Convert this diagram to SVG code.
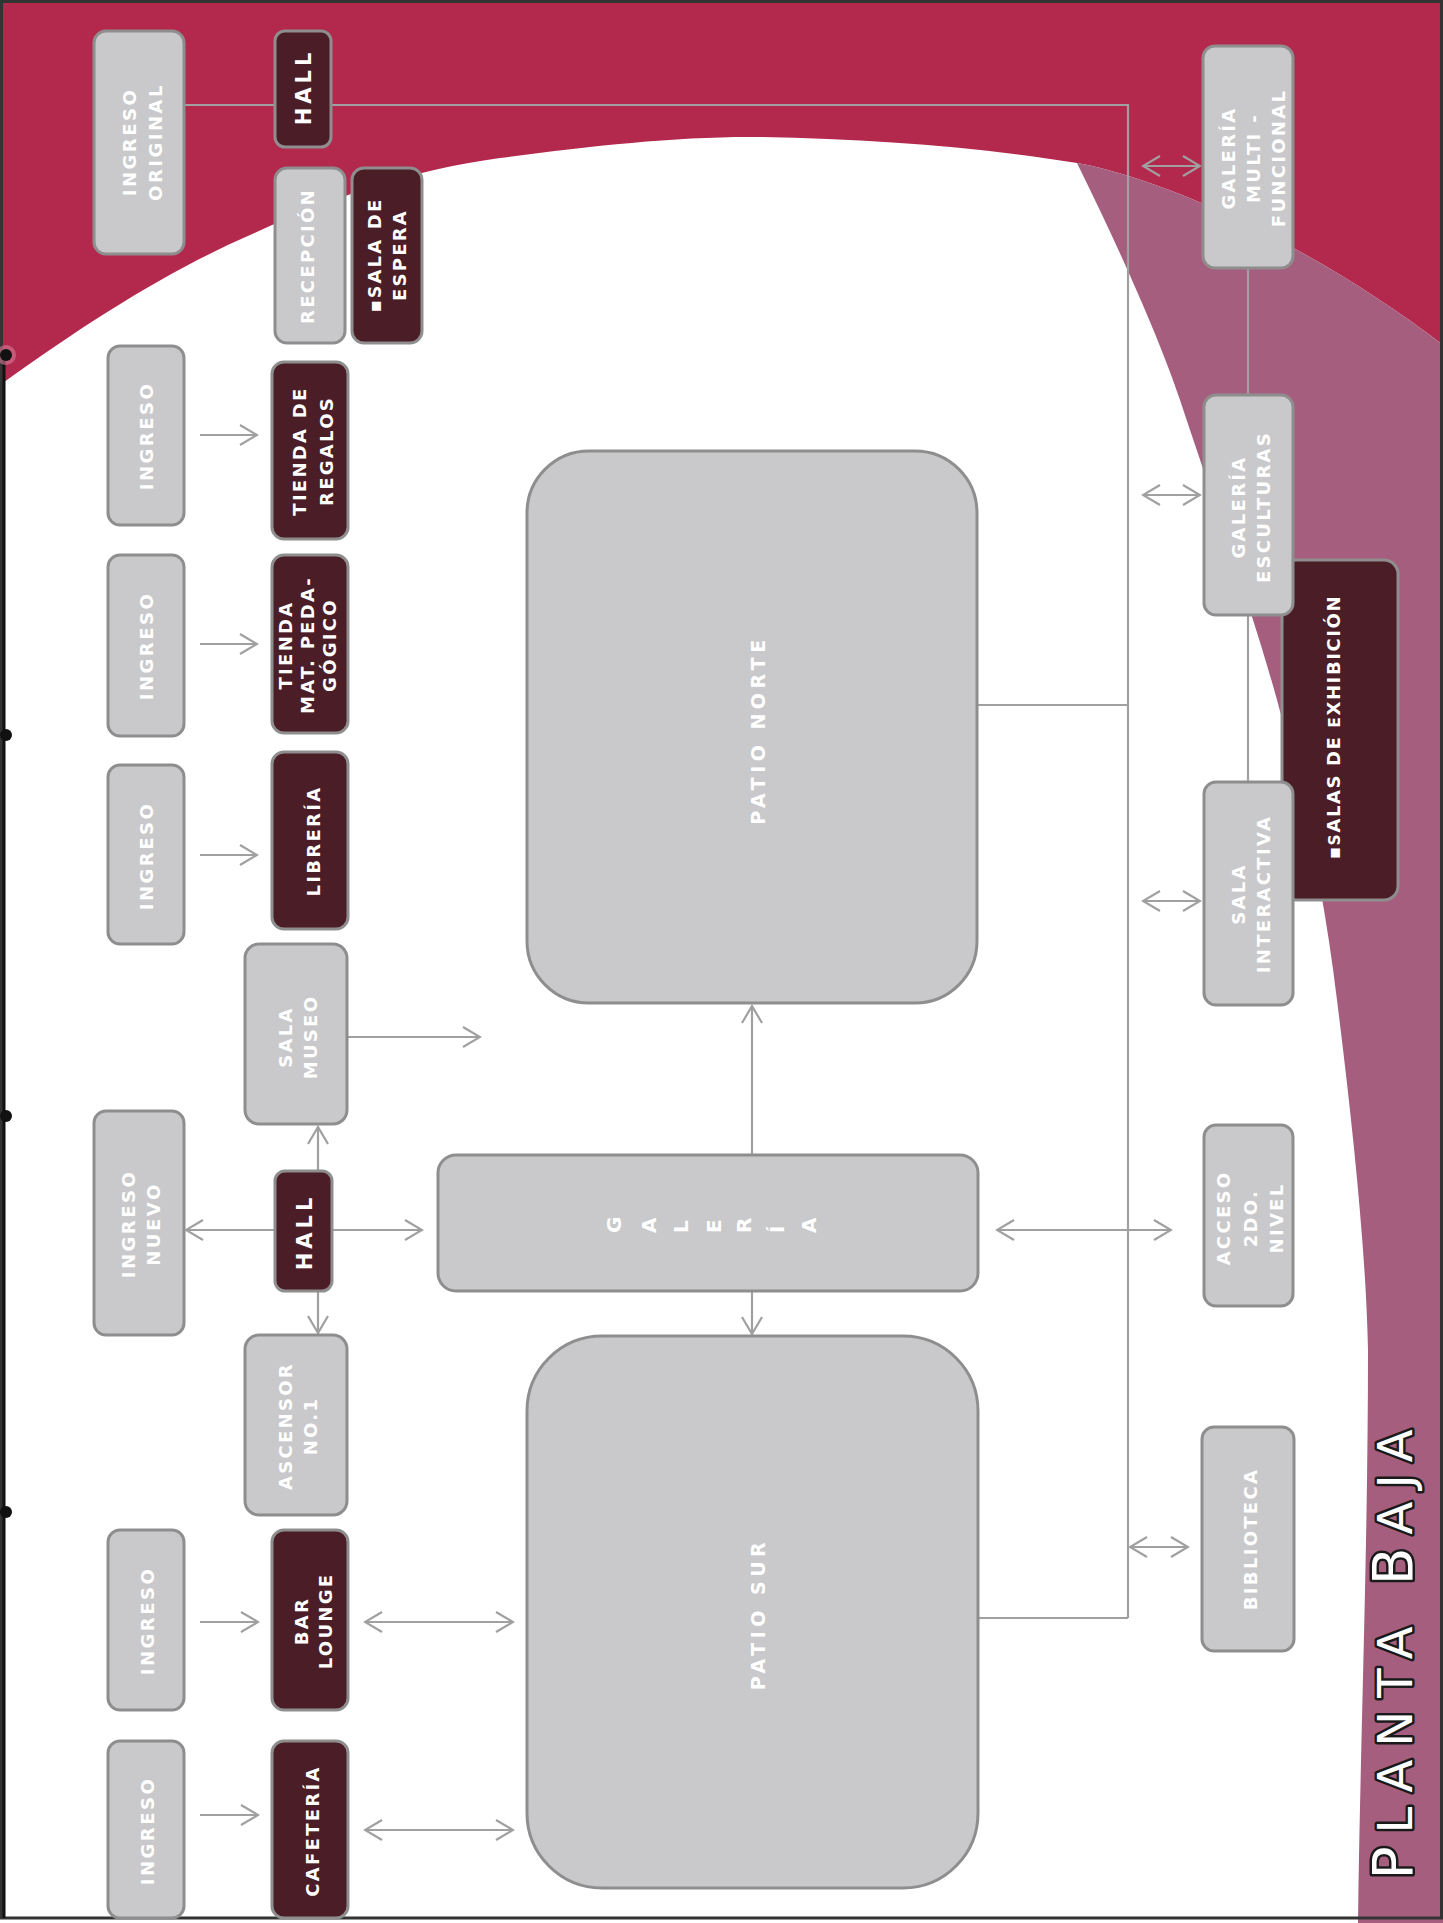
<svg xmlns="http://www.w3.org/2000/svg" width="1443" height="1923" viewBox="0 0 1443 1923">
<defs>
<style>
.lb{fill:#c9c9cb;stroke:#8e8e8e;stroke-width:3}
.db{fill:#4a1d27;stroke:#8e8e8e;stroke-width:3}
.t{font-family:"DejaVu Sans","Liberation Sans",sans-serif;font-weight:bold;font-size:18px;letter-spacing:2.3px;fill:#ffffff;text-anchor:middle}
.ti{letter-spacing:2.5px}
.th{font-size:21px;letter-spacing:4px}
.tp{font-size:19px;letter-spacing:4.5px}
.sc{letter-spacing:2.2px}
.c{fill:none;stroke:#a0a0a0;stroke-width:2.2}
.a{marker-end:url(#ah)}
.aa{marker-start:url(#ah);marker-end:url(#ah)}
</style>
<marker id="ah" viewBox="-20 -12 22 24" refX="0" refY="0" markerWidth="22" markerHeight="24" markerUnits="userSpaceOnUse" orient="auto-start-reverse">
<path d="M-17,-10 L0,0 L-17,10" fill="none" stroke="#a0a0a0" stroke-width="2.2"/>
</marker>
</defs>

<g id="background">
<rect width="1443" height="1923" fill="#ffffff"/>
<path d="M0,0 H1443 V345 C1330,258 1180,182 1077,163 C980,147 870,139 760,137 C680,136 590,146 500,158 C410,170 330,198 250,235 C170,270 90,320 0,385 Z" fill="#b3294d"/>
<path d="M1077,163 C1120,250 1160,340 1180,400 C1220,520 1255,620 1277,700 C1305,800 1325,900 1337,1000 C1352,1120 1366,1250 1368,1350 C1368,1550 1360,1750 1358,1923 H1443 V345 C1330,258 1180,182 1077,163 Z" fill="#a65e7f"/>
<path d="M1.5,1.5 H1441.5 V1918 H1.5 Z" fill="none" stroke="#333333" stroke-width="3"/>
<line x1="4" y1="355" x2="4" y2="1918" stroke="#111111" stroke-width="3"/>
<circle cx="6" cy="355" r="10" fill="#d77a98" opacity="0.6"/>
<circle cx="6" cy="355" r="6" fill="#111111"/>
<circle cx="6" cy="735" r="6" fill="#111111"/>
<circle cx="6" cy="1116" r="6" fill="#111111"/>
<circle cx="6" cy="1512" r="6" fill="#111111"/>
</g>

<g id="connectors">
<path class="c" d="M184,105 H275 M331,105 H1128 V1618"/>
<path class="c" d="M977,705 H1128"/>
<path class="c" d="M978,1618 H1128"/>
<path class="c" d="M1248,268 V395"/>
<path class="c" d="M1248,615 V782"/>
<path class="c a" d="M200,435 H257"/>
<path class="c a" d="M200,644 H257"/>
<path class="c a" d="M200,855 H257"/>
<path class="c a" d="M348,1037 H480"/>
<path class="c a" d="M318,1171 V1127"/>
<path class="c a" d="M318,1291 V1333"/>
<path class="c a" d="M275,1230 H186"/>
<path class="c a" d="M332,1230 H422"/>
<path class="c a" d="M752,1155 V1006"/>
<path class="c a" d="M752,1291 V1334"/>
<path class="c a" d="M200,1622 H258"/>
<path class="c a" d="M200,1815 H258"/>
<path class="c aa" d="M365,1622 H513"/>
<path class="c aa" d="M365,1830 H513"/>
<path class="c aa" d="M1143,166 H1200"/>
<path class="c aa" d="M1143,495 H1200"/>
<path class="c aa" d="M1143,901 H1200"/>
<path class="c aa" d="M997,1230 H1171"/>
<path class="c aa" d="M1130,1547 H1188"/>
</g>

<g id="n-ingreso-original"><rect class="lb" x="94" y="31" width="90" height="223" rx="12"/>
<text class="t ti" transform="translate(0,142) rotate(-90)"><tspan x="0" y="136">INGRESO</tspan><tspan x="0" y="162">ORIGINAL</tspan></text></g>

<g id="n-hall-1"><rect class="db" x="275" y="31" width="56" height="116" rx="10"/>
<text class="t th" transform="translate(0,87) rotate(-90)"><tspan x="0" y="311">HALL</tspan></text></g>

<g id="n-recepcion"><rect class="lb" x="275" y="168" width="70" height="175" rx="12"/>
<text class="t" transform="translate(0,256) rotate(-90)"><tspan x="0" y="314">RECEPCIÓN</tspan></text></g>

<g id="n-sala-espera"><rect class="db" x="352" y="168" width="70" height="175" rx="12"/>
<text class="t sc" transform="translate(0,255) rotate(-90)" font-size="14"><tspan x="0" y="381">▪<tspan font-size="17">S</tspan>ALA DE</tspan><tspan x="0" y="406">ESPERA</tspan></text></g>

<g id="n-ingreso-1"><rect class="lb" x="108" y="346" width="76" height="179" rx="12"/>
<text class="t ti" transform="translate(0,436) rotate(-90)"><tspan x="0" y="153">INGRESO</tspan></text></g>

<g id="n-tienda-regalos"><rect class="db" x="272" y="362" width="76" height="177" rx="12"/>
<text class="t" transform="translate(0,451) rotate(-90)"><tspan x="0" y="306">TIENDA DE</tspan><tspan x="0" y="333">REGALOS</tspan></text></g>

<g id="n-ingreso-2"><rect class="lb" x="108" y="555" width="76" height="181" rx="12"/>
<text class="t ti" transform="translate(0,646) rotate(-90)"><tspan x="0" y="153">INGRESO</tspan></text></g>

<g id="n-tienda-mat"><rect class="db" x="272" y="555" width="76" height="178" rx="12"/>
<text class="t" transform="translate(0,645) rotate(-90)"><tspan x="0" y="292">TIENDA</tspan><tspan x="0" y="314">MAT. PEDA-</tspan><tspan x="0" y="336">GÓGICO</tspan></text></g>

<g id="n-ingreso-3"><rect class="lb" x="108" y="765" width="76" height="179" rx="12"/>
<text class="t ti" transform="translate(0,856) rotate(-90)"><tspan x="0" y="153">INGRESO</tspan></text></g>

<g id="n-libreria"><rect class="db" x="272" y="752" width="76" height="177" rx="12"/>
<text class="t" transform="translate(0,841) rotate(-90)"><tspan x="0" y="320">LIBRERÍA</tspan></text></g>

<g id="n-sala-museo"><rect class="lb" x="245" y="944" width="102" height="180" rx="14"/>
<text class="t" transform="translate(0,1037) rotate(-90)"><tspan x="0" y="292">SALA</tspan><tspan x="0" y="317">MUSEO</tspan></text></g>

<g id="n-ingreso-nuevo"><rect class="lb" x="94" y="1111" width="90" height="224" rx="12"/>
<text class="t ti" transform="translate(0,1224) rotate(-90)"><tspan x="0" y="135">INGRESO</tspan><tspan x="0" y="160">NUEVO</tspan></text></g>

<g id="n-hall-2"><rect class="db" x="275" y="1171" width="57" height="120" rx="10"/>
<text class="t th" transform="translate(0,1232) rotate(-90)"><tspan x="0" y="312">HALL</tspan></text></g>

<g id="n-ascensor"><rect class="lb" x="245" y="1335" width="102" height="180" rx="14"/>
<text class="t" transform="translate(0,1426) rotate(-90)"><tspan x="0" y="292">ASCENSOR</tspan><tspan x="0" y="317">NO.1</tspan></text></g>

<g id="n-ingreso-4"><rect class="lb" x="108" y="1530" width="76" height="180" rx="12"/>
<text class="t ti" transform="translate(0,1621) rotate(-90)"><tspan x="0" y="154">INGRESO</tspan></text></g>

<g id="n-bar-lounge"><rect class="db" x="272" y="1530" width="76" height="180" rx="12"/>
<text class="t" transform="translate(0,1621) rotate(-90)"><tspan x="0" y="308">BAR</tspan><tspan x="0" y="332">LOUNGE</tspan></text></g>

<g id="n-ingreso-5"><rect class="lb" x="108" y="1741" width="76" height="177" rx="12"/>
<text class="t ti" transform="translate(0,1831) rotate(-90)"><tspan x="0" y="154">INGRESO</tspan></text></g>

<g id="n-cafeteria"><rect class="db" x="272" y="1741" width="76" height="177" rx="12"/>
<text class="t" transform="translate(0,1831) rotate(-90)"><tspan x="0" y="319">CAFETERÍA</tspan></text></g>

<g id="n-patio-norte"><rect class="lb" x="527" y="451" width="450" height="552" rx="62"/>
<text class="t tp" transform="translate(0,730) rotate(-90)"><tspan x="0" y="765">PATIO NORTE</tspan></text></g>

<g id="n-galeria"><rect class="lb" x="438" y="1155" width="540" height="136" rx="18"/>
<text class="t" style="text-anchor:start;letter-spacing:0;font-size:20px" x="621 656 688 721 751 784 816" y="1233" rotate="-90">GALERÍA</text></g>

<g id="n-patio-sur"><rect class="lb" x="527" y="1336" width="451" height="552" rx="75"/>
<text class="t tp" transform="translate(0,1614) rotate(-90)"><tspan x="0" y="765">PATIO SUR</tspan></text></g>

<g id="n-salas-exhibicion"><rect class="db" x="1282" y="560" width="116" height="340" rx="14"/>
<text class="t" style="letter-spacing:1.6px" transform="translate(0,727) rotate(-90)" font-size="12.5"><tspan x="0" y="1340">▪<tspan font-size="15.5">S</tspan>ALAS DE <tspan font-size="15.5">E</tspan>XHIBICIÓN</tspan></text></g>

<g id="n-galeria-multi"><rect class="lb" x="1203" y="46" width="90" height="222" rx="12"/>
<text class="t" transform="translate(0,158) rotate(-90)"><tspan x="0" y="1235">GALERÍA</tspan><tspan x="0" y="1260">MULTI -</tspan><tspan x="0" y="1285">FUNCIONAL</tspan></text></g>

<g id="n-galeria-esculturas"><rect class="lb" x="1204" y="395" width="89" height="220" rx="12"/>
<text class="t" transform="translate(0,507) rotate(-90)"><tspan x="0" y="1245">GALERÍA</tspan><tspan x="0" y="1270">ESCULTURAS</tspan></text></g>

<g id="n-sala-interactiva"><rect class="lb" x="1204" y="782" width="89" height="223" rx="12"/>
<text class="t" transform="translate(0,894) rotate(-90)"><tspan x="0" y="1245">SALA</tspan><tspan x="0" y="1270">INTERACTIVA</tspan></text></g>

<g id="n-acceso"><rect class="lb" x="1204" y="1125" width="89" height="181" rx="12"/>
<text class="t" transform="translate(0,1218) rotate(-90)"><tspan x="0" y="1230">ACCESO</tspan><tspan x="0" y="1257">2DO.</tspan><tspan x="0" y="1283">NIVEL</tspan></text></g>

<g id="n-biblioteca"><rect class="lb" x="1202" y="1427" width="92" height="224" rx="12"/>
<text class="t" transform="translate(0,1539) rotate(-90)"><tspan x="0" y="1257">BIBLIOTECA</tspan></text></g>

<g id="title">
<text transform="translate(0,1648) rotate(-90)" font-family="'DejaVu Sans','Liberation Sans',sans-serif" font-size="48" letter-spacing="13" fill="#ffffff" stroke="#1a1a1a" stroke-width="5" paint-order="stroke" stroke-linejoin="round" text-anchor="middle"><tspan x="0" y="1412"><tspan font-size="55">P</tspan>LANTA <tspan font-size="55">B</tspan>AJA</tspan></text>
</g>
</svg>
